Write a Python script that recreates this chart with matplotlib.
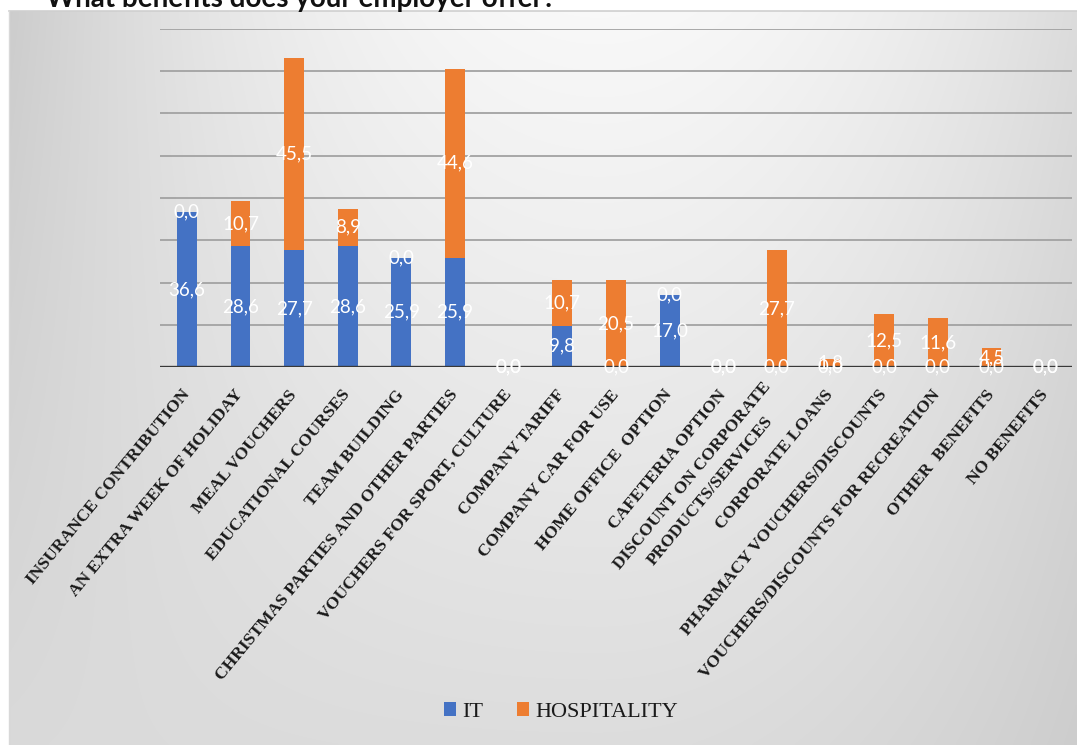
import numpy as np
import matplotlib.pyplot as plt

# ── Data ──────────────────────────────────────────────────────
categories = [
    'INSURANCE CONTRIBUTION', 'AN EXTRA WEEK OF HOLIDAY', 'MEAL VOUCHERS',
    'EDUCATIONAL COURSES', 'TEAM BUILDING', 'CHRISTMAS PARTIES AND OTHER PARTIES',
    'VOUCHERS FOR SPORT, CULTURE', 'COMPANY TARIFF', 'COMPANY CAR FOR USE',
    'HOME OFFICE  OPTION', 'CAFETERIA OPTION', 'DISCOUNT ON CORPORATE\nPRODUCTS/SERVICES',
    'CORPORATE LOANS', 'PHARMACY VOUCHERS/DISCOUNTS', 'VOUCHERS/DISCOUNTS FOR RECREATION',
    'OTHER  BENEFITS', 'NO BENEFITS',
]
it_values   = [36.6, 28.6, 27.7, 28.6, 25.9, 25.9, 0.0, 9.8, 0.0, 17.0, 0.0, 0.0, 0.0, 0.0, 0.0, 0.0, 0.0]
hosp_values = [0.0, 10.7, 45.5, 8.9, 0.0, 44.6, 0.0, 10.7, 20.5, 0.0, 0.0, 27.7, 1.8, 12.5, 11.6, 4.5, 0.0]
series_names = ['IT', 'HOSPITALITY']
title = 'What benefits does your employer offer?'

BLUE   = '#4472C4'
ORANGE = '#ED7D31'

W, H = 1077, 745
fig = plt.figure(figsize=(W / 100, H / 100), dpi=100)
fig.patch.set_facecolor('white')

# ── Background gradient (chart area) ──────────────────────────
bg = fig.add_axes([9 / W, 0, 1 - 9 / W, (H - 11) / H])
xs = np.linspace(9, W, 400)
ys = np.linspace(11, H, 300)
X, Y = np.meshgrid(xs, ys)
u = (X - 600) / 550
t = Y / H
top = 0.975 - 0.15 * u ** 2
bot = 0.865 - 0.07 * np.where(u > 0, u, 0) ** 2 - 0.01 * u ** 2
v = np.clip(top * (1 - t) + bot * t, 0, 1)
bg.imshow(np.dstack([v, v, v]), aspect='auto', extent=[0, 1, 0, 1], interpolation='bilinear')
bg.set_xlim(0, 1)
bg.set_ylim(0, 1)
bg.axis('off')
fig.add_artist(plt.Line2D([9 / W, 1], [(H - 11) / H] * 2, color='#cfcfcf', lw=1.2))
fig.add_artist(plt.Line2D([9 / W] * 2, [0, (H - 11) / H], color='#d8d8d8', lw=1.0))

# title, mostly cut off by the top edge as in the screenshot
fig.text(46 / W, 1 - 7 / H, title, fontsize=20, fontweight='bold', family=['Lato', 'DejaVu Sans'],
         color='#111111', ha='left', va='baseline')

# ── Main chart ────────────────────────────────────────────────
ax = fig.add_axes([160 / W, 1 - 367 / H, (1072 - 160) / W, (367 - 29) / H])
ax.patch.set_alpha(0)
x = np.arange(len(categories))
it = np.array(it_values)
hosp = np.array(hosp_values)
bw = 0.37

ax.bar(x, it, bw, color=BLUE, zorder=3, label=series_names[0])
ax.bar(x, hosp, bw, bottom=it, color=ORANGE, zorder=3, label=series_names[1])

for k in range(1, 9):
    ax.axhline(k * 10, color='#a2a2a2', lw=1.3, zorder=1)
ax.axhline(0, color='#383838', lw=2.4, zorder=4)

lab_font = dict(color='white', fontsize=13.5, family=['Lato', 'DejaVu Sans'],
                ha='center', va='center', zorder=5)
for i in range(len(x)):
    ax.text(x[i], it[i] / 2, f'{it[i]:.1f}'.replace('.', ','), **lab_font)
    ax.text(x[i], it[i] + hosp[i] / 2, f'{hosp[i]:.1f}'.replace('.', ','), **lab_font)

ax.set_xlim(-0.5, len(x) - 0.5)
ax.set_ylim(0, 80)
ax.set_yticks([])
ax.set_xticks(x)
ax.set_xticklabels(categories, rotation=50.5, ha='right', va='center', rotation_mode='anchor',
                   family='Liberation Serif', fontweight='bold', fontsize=12.6, color='#1a1a1a',
                   multialignment='center', linespacing=1.6)
ax.tick_params(axis='x', length=0, pad=18)
for s in ax.spines.values():
    s.set_visible(False)

leg = fig.legend(loc='center', bbox_to_anchor=(561 / W, 1 - 712 / H), ncol=2, frameon=False,
                 prop={'family': 'Liberation Serif', 'size': 16},
                 handlelength=0.55, handleheight=0.55, handletextpad=0.3, columnspacing=1.5)
for txt in leg.get_texts():
    txt.set_color('#1a1a1a')

fig.savefig('out.png', dpi=100)
